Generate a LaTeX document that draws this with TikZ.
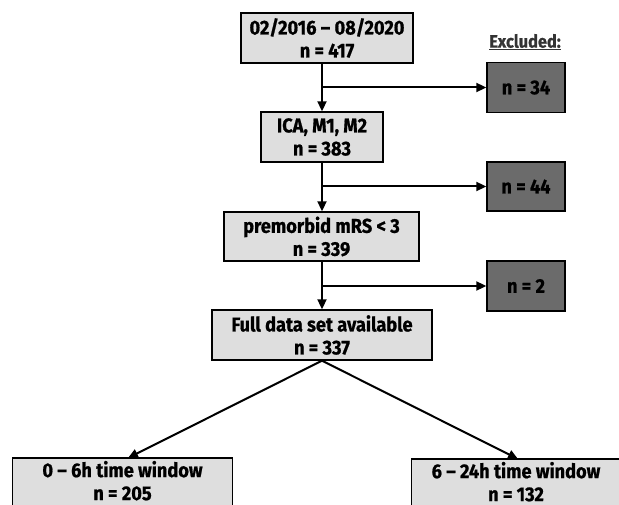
\documentclass[tikz,border=0pt]{standalone}
\usepackage{fontspec}
\newfontfamily\flowfont{Fira Sans}[FakeStretch=0.91,BoldFeatures={FakeBold=0.8}]
\usetikzlibrary{arrows.meta}
\definecolor{boxlight}{HTML}{DEDEDE}
\definecolor{boxdark}{HTML}{6B6B6B}

\begin{document}
\begin{tikzpicture}[x=1pt,y=-1pt,
  stage/.style={draw,line width=1.4pt,fill=boxlight,align=center,inner sep=0pt,
    font=\flowfont\bfseries\fontsize{20}{23}\selectfont},
  openstage/.style={stage,draw=none},
  dropped/.style={draw,line width=1.4pt,fill=boxdark,align=center,inner sep=0pt,
    minimum width=78pt,minimum height=50pt,
    font=\flowfont\bfseries\fontsize{20}{23}\selectfont},
  flow/.style={line width=2pt,-{Triangle[length=10pt,width=9pt]}}]
\clip (0,0) rectangle (619,505);

 \node[stage,minimum width=172pt,minimum height=50pt] (start) at (327,38) {02/2016 – 08/2020\\n = 417};
 \node[stage,minimum width=122pt,minimum height=50pt] (ica) at (322,137) {ICA, M1, M2\\n = 383};
 \node[stage,minimum width=195pt,minimum height=49pt] (mrs) at (321.5,236.5) {premorbid mRS < 3\\n = 339};
 \node[stage,minimum width=220pt,minimum height=50pt] (full) at (322,335) {Full data set available\\n = 337};
 \node[openstage,minimum width=219pt,minimum height=44pt,anchor=north] (early) at (122.5,458) {0 – 6h time window\\n = 205};
 \node[openstage,minimum width=208pt,minimum height=44pt,anchor=north] (late) at (516,459) {6 – 24h time window\\n = 132};
 % bottom boxes run on past the lower edge
 \fill[boxlight] (early.south west) rectangle ([yshift=-8pt]early.south east);
 \fill[boxlight] (late.south west) rectangle ([yshift=-8pt]late.south east);
 \draw[line width=1.4pt] ([yshift=-8pt]early.south west) -- (early.north west) -- (early.north east) -- ([yshift=-8pt]early.south east);
 \draw[line width=1.4pt] ([yshift=-8pt]late.south west) -- (late.north west) -- (late.north east) -- ([yshift=-8pt]late.south east);

 \node[font=\flowfont\bfseries\fontsize{18}{20}\selectfont,text=black!80] (exlabel) at (525,42) {\underline{Excluded:}};
 \node[dropped] (exa) at (526,87.5) {n = 34};
 \node[dropped,minimum height=49pt] (exb) at (526,186.5) {n = 44};
 \node[dropped] (exc) at (526,286) {n = 2};

 \coordinate (ja) at (322,87.5);
 \coordinate (jb) at (322,186.5);
 \coordinate (jc) at (322,286);

 \draw[flow] (start.south -| ica.north) -- (ica.north);
 \draw[flow] (ica.south) -- (ica.south |- mrs.north);
 \draw[flow] (mrs.south -| full.north) -- (full.north);
 \draw[flow] (ja) -- (exa.west);
 \draw[flow] (jb) -- (exb.west);
 \draw[flow] (jc) -- (exc.west);

 \draw[flow] (full.south) -- (early.north -| 128,0);
 \draw[flow] (full.south) -- (late.north -| 518,0);
\end{tikzpicture}
\end{document}
